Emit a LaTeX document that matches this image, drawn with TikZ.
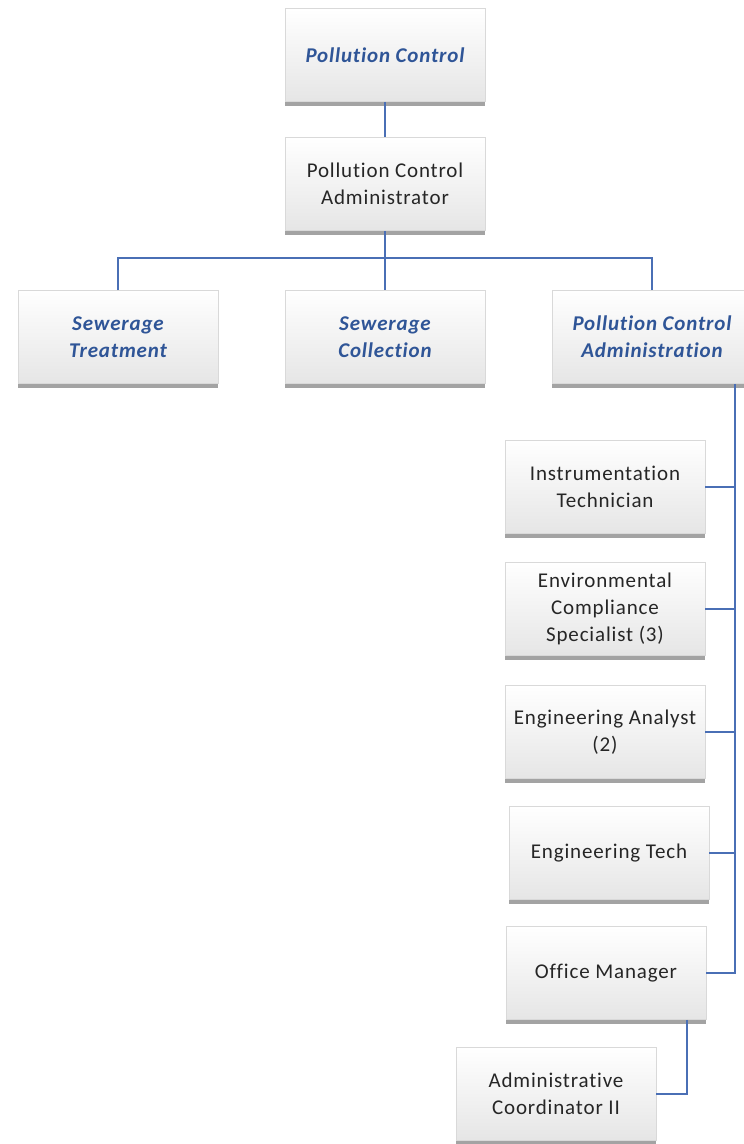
\documentclass[tikz,border=0pt]{standalone}
\usepackage{fontspec}
\setmainfont{Carlito}[LetterSpace=4, Ligatures=NoCommon]
\usetikzlibrary{shadows}
\definecolor{linkblue}{HTML}{4A6FB5}
\definecolor{unitblue}{HTML}{2F5597}
\definecolor{txtgray}{HTML}{262626}
\tikzset{
  orgbox/.style={rectangle, minimum width=200pt, minimum height=93pt,
    inner sep=2pt, align=center, draw=black!15, line width=0.6pt,
    top color=white, bottom color=black!10, text=txtgray,
    font=\fontsize{21pt}{27pt}\selectfont,
    drop shadow={shadow xshift=0pt, shadow yshift=-4pt, fill=black!60, opacity=0.6}},
  unitbox/.style={orgbox, text=unitblue,
    font=\fontsize{21pt}{27pt}\selectfont\bfseries\itshape},
  link/.style={draw=linkblue, line width=1.8pt}
}
\begin{document}
\begin{tikzpicture}[x=1pt, y=1pt]
\useasboundingbox (0,0) rectangle (744,-1144);
\begin{scope}
\clip (0,0) rectangle (744,-1144);
% top levels
\node[unitbox] (pc) at (385,-55) {Pollution Control};
\node[orgbox] (pca) at (385,-184) {Pollution Control\\Administrator};
% divisions
\node[unitbox] (st) at (118,-337) {Sewerage\\Treatment};
\node[unitbox] (sc) at (385,-337) {Sewerage\\Collection};
\node[unitbox] (adm) at (652,-337) {Pollution Control\\Administration};
% administration staff
\node[orgbox] (inst) at (605,-487) {Instrumentation\\Technician};
\node[orgbox] (env) at (605,-609) {Environmental\\Compliance\\Specialist (3)};
\node[orgbox] (ea) at (605,-732) {Engineering Analyst\\(2)};
\node[orgbox] (et) at (609,-853) {Engineering Tech};
\node[orgbox] (om) at (606,-973) {Office Manager};
\node[orgbox] (ac) at (556,-1094) {Administrative\\Coordinator II};
\end{scope}
% connectors
\coordinate (bus) at (385,-258);
\coordinate (trunk) at (735,0);
\coordinate (drop) at (687,0);
\draw[link] (pc.south) -- (pca.north);
\draw[link] (pca.south) -- (sc.north);
\draw[link] (st.north) |- (bus) -| (adm.south |- adm.north);
\draw[link] (adm.south -| trunk) |- (om.east);
\draw[link] (inst.east) -- (inst.east -| trunk);
\draw[link] (env.east) -- (env.east -| trunk);
\draw[link] (ea.east) -- (ea.east -| trunk);
\draw[link] (et.east) -- (et.east -| trunk);
\draw[link] (om.south -| drop) |- (ac.east);
\end{tikzpicture}
\end{document}
